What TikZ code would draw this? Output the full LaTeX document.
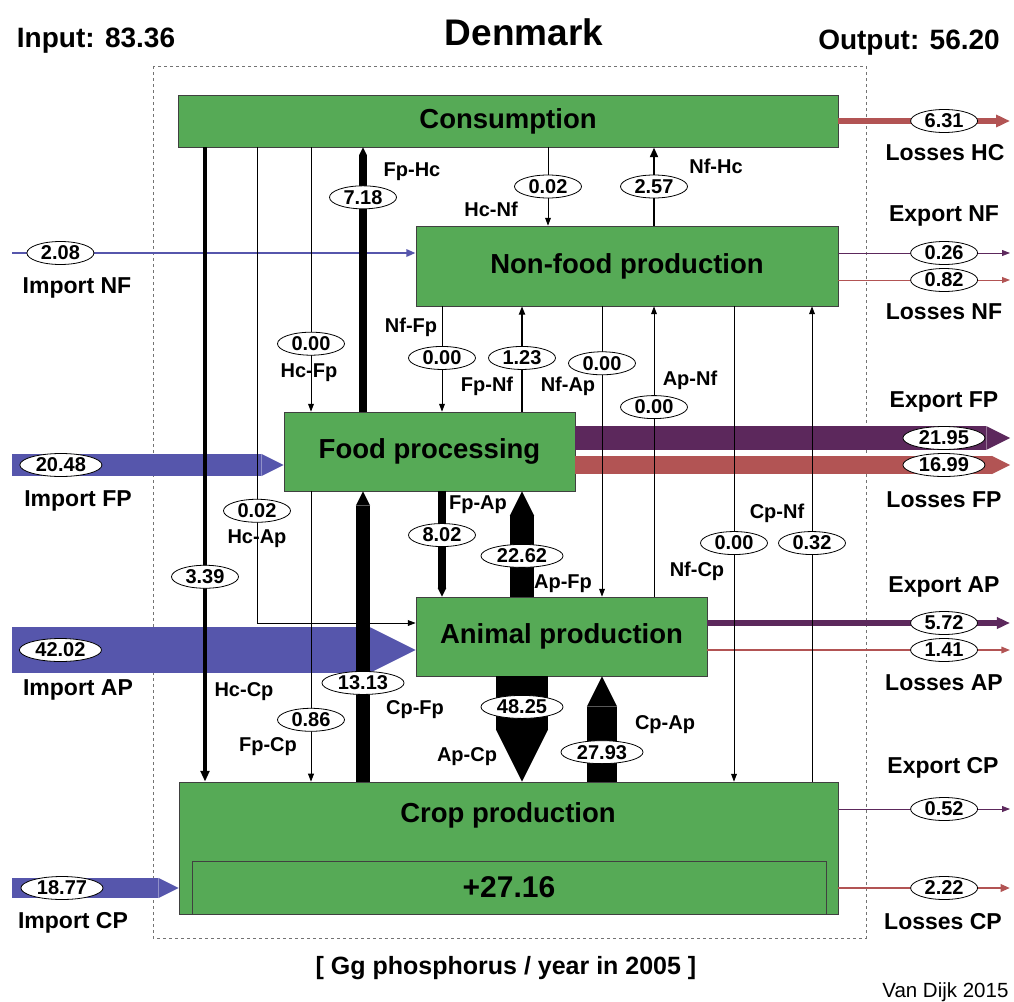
\documentclass[tikz,border=0pt]{standalone}
\usepackage{fontspec}
\setmainfont{Liberation Sans}
\usetikzlibrary{arrows.meta,shapes.geometric}

\definecolor{boxgreen}{RGB}{86,170,86}
\definecolor{impblue}{RGB}{86,86,172}
\definecolor{exppurple}{RGB}{92,40,92}
\definecolor{lossred}{RGB}{178,84,84}

\begin{document}
\begin{tikzpicture}[x=1pt, y=-1pt,
    every node/.style={font=\bfseries},
    sector/.style={rectangle, draw=black!75, line width=0.8pt, fill=boxgreen,
                   inner sep=0pt, font=\fontsize{27.5}{30}\selectfont\bfseries},
    val/.style={ellipse, draw=black, fill=white, text=black, line width=0.8pt,
                inner xsep=4pt, inner ysep=0pt, minimum width=67pt, minimum height=23pt,
                font=\fontsize{20}{22}\selectfont\bfseries},
    flowlbl/.style={font=\fontsize{20}{22}\selectfont\bfseries},
    sidelbl/.style={font=\fontsize{23}{25}\selectfont\bfseries},
    flux/.style={line width={max(0.8,1.08*#1)*1pt}},
    bighead/.style={-{Triangle[length=0pt 1, width=0pt 1, line width=0pt]}},
    smallhead/.style={-{Triangle[length=7pt 1, width=5pt 1]}},
  ]
  \useasboundingbox (0,0) rectangle (1014,1001);
  \draw[black!55, line width=0.8pt, dash pattern=on 3pt off 3pt] (153,66) rectangle (866,938);

  \node[anchor=base, font=\fontsize{28}{30}\selectfont\bfseries] (tin) at (96,47) {Input: 83.36};
  \node[anchor=base, font=\fontsize{37}{40}\selectfont\bfseries] (ttl) at (524,45) {Denmark};
  \node[anchor=base, font=\fontsize{28}{30}\selectfont\bfseries] (tout) at (909,49) {Output: 56.20};

  \node[sector, minimum width=660pt, minimum height=52pt] (cons) at (508,121) {Consumption};
  \node[sector, minimum width=422pt, minimum height=80pt] (nonfood) at (627,266) {Non-food production};
  \node[sector, minimum width=291pt, minimum height=79pt] (food) at (429.5,451.5) {Food processing};
  \node[sector, minimum width=291pt, minimum height=79pt] (animal) at (561.5,636.5) {Animal production};
  \node[sector, minimum width=659pt, minimum height=132pt] (crop) at (508.5,848) {};
  \node[sector, minimum width=634pt, minimum height=53pt, font=\fontsize{30}{32}\selectfont\bfseries] (cropnet) at (509,887.5) {+27.16};
  \node[font=\fontsize{27.5}{30}\selectfont\bfseries] (croplbl) at (508,815) {Crop production};

  \coordinate (xIn) at (12,0);
  \coordinate (xOut) at (1010,0);
  \coordinate (xHcCp) at (205,0);
  \coordinate (xHcAp) at (257,0);
  \coordinate (xHcFp) at (311,0);
  \coordinate (xFpHc) at (363,0);
  \coordinate (xNfFp) at (442,0);
  \coordinate (xFpNf) at (522,0);
  \coordinate (xHcNf) at (548,0);
  \coordinate (xNfAp) at (602,0);
  \coordinate (xNfHc) at (654,0);
  \coordinate (xNfCp) at (734,0);
  \coordinate (xCpNf) at (812,0);
  \coordinate (rNF1) at (0,253);
  \coordinate (rNF2) at (0,280);
  \coordinate (rFP1) at (0,438);
  \coordinate (rFP2) at (0,465);
  \coordinate (rAP1) at (0,623);
  \coordinate (rAP2) at (0,650);
  \coordinate (rCP1) at (0,809);
  \coordinate (rCP2) at (0,888);

  \draw[impblue, flux=2.08, smallhead] (xIn |- rNF1) -- node[val, pos=0.12] {2.08} (nonfood.west |- rNF1);
  \draw[impblue, flux=20.48, bighead] (xIn |- rFP2) -- node[val, pos=0.18] {20.48} (food.west |- rFP2);
  \draw[impblue, flux=42.02, bighead] (xIn |- rAP2) -- node[val, pos=0.12] {42.02} (animal.west |- rAP2);
  \draw[impblue, flux=18.77, bighead] (xIn |- rCP2) -- node[val, pos=0.3] {18.77} (crop.west |- rCP2);

  \draw[lossred, flux=6.31, smallhead] (cons.east) -- node[val, pos=0.616] {6.31} (xOut |- cons.east);
  \draw[exppurple, flux=0.26, smallhead] (nonfood.east |- rNF1) -- node[val, pos=0.616] {0.26} (xOut |- rNF1);
  \draw[lossred, flux=0.82, smallhead] (nonfood.east |- rNF2) -- node[val, pos=0.616] {0.82} (xOut |- rNF2);
  \draw[exppurple, flux=21.95, bighead] (food.east |- rFP1) -- node[val, pos=0.848] {21.95} (xOut |- rFP1);
  \draw[lossred, flux=16.99, bighead] (food.east |- rFP2) -- node[val, pos=0.848] {16.99} (xOut |- rFP2);
  \draw[exppurple, flux=5.72, smallhead] (animal.east |- rAP1) -- node[val, pos=0.782] {5.72} (xOut |- rAP1);
  \draw[lossred, flux=1.41, smallhead] (animal.east |- rAP2) -- node[val, pos=0.782] {1.41} (xOut |- rAP2);
  \draw[exppurple, flux=0.52, smallhead] (crop.east |- rCP1) -- node[val, pos=0.616] {0.52} (xOut |- rCP1);
  \draw[lossred, flux=2.22, smallhead] (crop.east |- rCP2) -- node[val, pos=0.616] {2.22} (xOut |- rCP2);

  \draw[flux=3.39, smallhead] (cons.south -| xHcCp) -- node[val, pos=0.677] {3.39} (crop.north -| xHcCp);
  \draw[flux=0.02, smallhead] (cons.south -| xHcAp) |- node[val, pos=0.382] {0.02} (animal.west |- rAP1);
  \draw[flux=0.00, smallhead] (cons.south -| xHcFp) -- node[val, pos=0.743] {0.00} (food.north -| xHcFp);
  \draw[flux=7.18, bighead] (food.north -| xFpHc) -- node[val, pos=0.811] {7.18} (cons.south -| xFpHc);
  \draw[flux=0.02, smallhead] (cons.south -| xHcNf) -- node[val, pos=0.5] {0.02} (nonfood.north -| xHcNf);
  \draw[flux=2.57, smallhead] (nonfood.north -| xNfHc) -- node[val, pos=0.5] {2.57} (cons.south -| xNfHc);
  \draw[flux=0.00, smallhead] (nonfood.south -| xNfFp) -- node[val, pos=0.49] {0.00} (food.north -| xNfFp);
  \draw[flux=1.23, smallhead] (food.north -| xFpNf) -- node[val, pos=0.51] {1.23} (nonfood.south -| xFpNf);
  \draw[flux=0.00, smallhead] (nonfood.south -| xNfAp) -- node[val, pos=0.196] {0.00} (animal.north -| xNfAp);
  \draw[flux=0.00, smallhead] (animal.north -| xNfHc) -- node[val, pos=0.653] {0.00} (nonfood.south -| xNfHc);
  \draw[flux=0.00, smallhead] (nonfood.south -| xNfCp) -- node[val, pos=0.498] {0.00} (crop.north -| xNfCp);
  \draw[flux=0.32, smallhead] (crop.north -| xCpNf) -- node[val, pos=0.502] {0.32} (nonfood.south -| xCpNf);
  \draw[flux=8.02, bighead] (food.south -| xNfFp) -- node[val, pos=0.415] {8.02} (animal.north -| xNfFp);
  \draw[flux=22.62, bighead] (animal.north -| xFpNf) -- node[val, pos=0.387] {22.62} (food.south -| xFpNf);
  \draw[flux=0.86, smallhead] (food.south -| xHcFp) -- node[val, pos=0.787] {0.86} (crop.north -| xHcFp);
  \draw[flux=13.13, bighead] (crop.north -| xFpHc) -- node[val, pos=0.34] {13.13} (food.south -| xFpHc);
  \draw[flux=48.25, bighead] (animal.south -| xFpNf) -- node[val, pos=0.29] {48.25} (crop.north -| xFpNf);
  \draw[flux=27.93, bighead] (crop.north -| xNfAp) -- node[val, pos=0.28] {27.93} (animal.south -| xNfAp);

  \node[flowlbl] (lFpHc) at (412,172) {Fp-Hc};
  \node[flowlbl] (lHcNf) at (491,209) {Hc-Nf};
  \node[flowlbl] (lNfHc) at (716,166) {Nf-Hc};
  \node[flowlbl] (lHcFp) at (309,373) {Hc-Fp};
  \node[flowlbl] (lNfFp) at (411,327) {Nf-Fp};
  \node[flowlbl] (lFpNf) at (487,386) {Fp-Nf};
  \node[flowlbl] (lNfAp) at (568,386) {Nf-Ap};
  \node[flowlbl] (lApNf) at (690,380) {Ap-Nf};
  \node[flowlbl] (lHcAp) at (257,539) {Hc-Ap};
  \node[flowlbl] (lFpAp) at (478,505) {Fp-Ap};
  \node[flowlbl] (lApFp) at (563,584) {Ap-Fp};
  \node[flowlbl] (lCpNf) at (777,513) {Cp-Nf};
  \node[flowlbl] (lNfCp) at (697,571) {Nf-Cp};
  \node[flowlbl] (lHcCp) at (244,692) {Hc-Cp};
  \node[flowlbl] (lCpFp) at (415,710) {Cp-Fp};
  \node[flowlbl] (lFpCp) at (268,747) {Fp-Cp};
  \node[flowlbl] (lApCp) at (467,757) {Ap-Cp};
  \node[flowlbl] (lCpAp) at (665,725) {Cp-Ap};

  \node[sidelbl] (sLossHC) at (945,153) {Losses HC};
  \node[sidelbl] (sExpNF) at (944,216) {Export NF};
  \node[sidelbl] (sLossNF) at (944,312) {Losses NF};
  \node[sidelbl] (sExpFP) at (944,402) {Export FP};
  \node[sidelbl] (sLossFP) at (944,500) {Losses FP};
  \node[sidelbl] (sExpAP) at (944,587) {Export AP};
  \node[sidelbl] (sLossAP) at (944,683) {Losses AP};
  \node[sidelbl] (sExpCP) at (943,768) {Export CP};
  \node[sidelbl] (sLossCP) at (943,922) {Losses CP};
  \node[sidelbl] (sImpNF) at (77,288) {Import NF};
  \node[sidelbl] (sImpFP) at (78,501) {Import FP};
  \node[sidelbl] (sImpAP) at (78,690) {Import AP};
  \node[sidelbl] (sImpCP) at (73,923) {Import CP};

  \node[font=\fontsize{25}{28}\selectfont\bfseries] (unit) at (506,968) {[ Gg phosphorus / year in 2005 ]};
  \node[anchor=base east, font=\fontsize{20.5}{22}\selectfont] (src) at (1012,997) {Van Dijk 2015};
\end{tikzpicture}
\end{document}
